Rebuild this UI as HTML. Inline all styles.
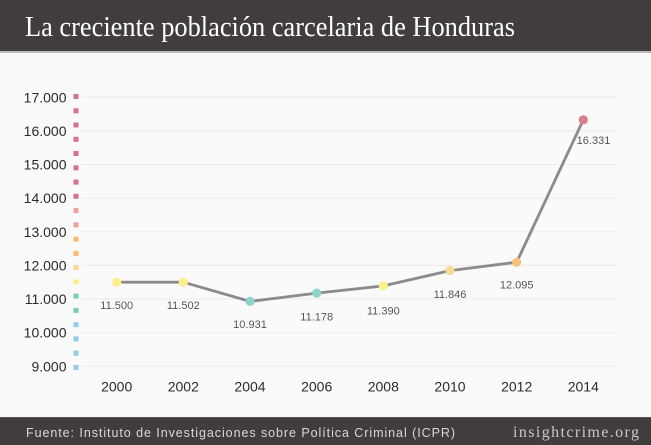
<!DOCTYPE html>
<html><head><meta charset="utf-8"><style>
html,body{margin:0;padding:0;background:#fafafa;}
svg{display:block;}
</style></head><body>
<svg width="651" height="445" viewBox="0 0 651 445" xmlns="http://www.w3.org/2000/svg">
<rect x="0" y="0" width="651" height="445" fill="#fafafa"/>
<rect x="0" y="0" width="651" height="51" fill="#423d3d"/>
<rect x="0" y="51" width="651" height="2" fill="#bdbdbd"/>
<text x="25" y="36" font-family="Liberation Serif, serif" font-size="28" fill="#ffffff" textLength="490" lengthAdjust="spacingAndGlyphs">La creciente población carcelaria de Honduras</text>

<g stroke="#ebebeb" stroke-width="1">
<line x1="81" x2="617" y1="97.3" y2="97.3"/>
<line x1="81" x2="617" y1="130.9" y2="130.9"/>
<line x1="81" x2="617" y1="164.5" y2="164.5"/>
<line x1="81" x2="617" y1="198.2" y2="198.2"/>
<line x1="81" x2="617" y1="231.8" y2="231.8"/>
<line x1="81" x2="617" y1="265.4" y2="265.4"/>
<line x1="81" x2="617" y1="299.0" y2="299.0"/>
<line x1="81" x2="617" y1="332.7" y2="332.7"/>
<line x1="81" x2="617" y1="366.3" y2="366.3"/>
</g>

<g font-family="Liberation Sans, sans-serif" font-size="14" fill="#2a2a2a" text-anchor="end">
<text x="66.5" y="102.3">17.000</text>
<text x="66.5" y="135.9">16.000</text>
<text x="66.5" y="169.5">15.000</text>
<text x="66.5" y="203.2">14.000</text>
<text x="66.5" y="236.8">13.000</text>
<text x="66.5" y="270.4">12.000</text>
<text x="66.5" y="304.0">11.000</text>
<text x="66.5" y="337.7">10.000</text>
<text x="66.5" y="371.3">9.000</text>
</g>

<g>
<rect x="73.5" y="94" width="5" height="5" fill="#d4728a"/>
<rect x="73.5" y="108.3" width="5" height="5" fill="#d4728a"/>
<rect x="73.5" y="122.5" width="5" height="5" fill="#d4728a"/>
<rect x="73.5" y="136.8" width="5" height="5" fill="#d4728a"/>
<rect x="73.5" y="151" width="5" height="5" fill="#d9708a"/>
<rect x="73.5" y="165.3" width="5" height="5" fill="#d9708a"/>
<rect x="73.5" y="179.6" width="5" height="5" fill="#d9708a"/>
<rect x="73.5" y="193.8" width="5" height="5" fill="#d9708a"/>
<rect x="73.5" y="208.1" width="5" height="5" fill="#f2a09c"/>
<rect x="73.5" y="222.3" width="5" height="5" fill="#f2a09c"/>
<rect x="73.5" y="236.6" width="5" height="5" fill="#f7bd6c"/>
<rect x="73.5" y="250.9" width="5" height="5" fill="#f7bd6c"/>
<rect x="73.5" y="265.1" width="5" height="5" fill="#f9d890"/>
<rect x="73.5" y="279.4" width="5" height="5" fill="#fbef80"/>
<rect x="73.5" y="293.6" width="5" height="5" fill="#7ecbc0"/>
<rect x="73.5" y="307.9" width="5" height="5" fill="#7ecbc0"/>
<rect x="73.5" y="322.2" width="5" height="5" fill="#93cbe8"/>
<rect x="73.5" y="336.4" width="5" height="5" fill="#93cbe8"/>
<rect x="73.5" y="350.7" width="5" height="5" fill="#93cbe8"/>
<rect x="73.5" y="364.9" width="5" height="5" fill="#93cbe8"/>
</g>

<polyline fill="none" stroke="#8c8a8c" stroke-width="2.8" stroke-linejoin="round"
 points="116.7,282.2 183.3,282.2 250,301.4 316.7,293.1 383.3,285.9 450,270.6 516.7,262.2 583.3,119.8"/>

<g>
<circle cx="116.7" cy="282.2" r="4.6" fill="#fbf08c"/>
<circle cx="183.3" cy="282.2" r="4.6" fill="#fbf08c"/>
<circle cx="250" cy="301.4" r="4.6" fill="#8fd3ca"/>
<circle cx="316.7" cy="293.1" r="4.6" fill="#8fd3ca"/>
<circle cx="383.3" cy="285.9" r="4.6" fill="#fdf08a"/>
<circle cx="450" cy="270.6" r="4.6" fill="#fad995"/>
<circle cx="516.7" cy="262.2" r="4.6" fill="#f6c37a"/>
<circle cx="583.3" cy="119.8" r="4.6" fill="#d9808f"/>
</g>

<g font-family="Liberation Sans, sans-serif" font-size="11" fill="#555555" text-anchor="middle">
<text x="116.7" y="309">11.500</text>
<text x="183.3" y="309">11.502</text>
<text x="250" y="328">10.931</text>
<text x="316.7" y="320.7">11.178</text>
<text x="383.3" y="314.7">11.390</text>
<text x="450" y="298">11.846</text>
<text x="516.7" y="288.7">12.095</text>
<text x="593.5" y="144">16.331</text>
</g>

<g font-family="Liberation Sans, sans-serif" font-size="14" fill="#2a2a2a" text-anchor="middle">
<text x="116.7" y="391.5">2000</text>
<text x="183.3" y="391.5">2002</text>
<text x="250" y="391.5">2004</text>
<text x="316.7" y="391.5">2006</text>
<text x="383.3" y="391.5">2008</text>
<text x="450" y="391.5">2010</text>
<text x="516.7" y="391.5">2012</text>
<text x="583.3" y="391.5">2014</text>
</g>

<rect x="0" y="417" width="651" height="28" fill="#423d3d"/>
<rect x="0" y="417" width="651" height="1" fill="#5a5555"/>
<text x="26" y="437" font-family="Liberation Sans, sans-serif" font-size="12.5" fill="#d8d8d8" textLength="429" lengthAdjust="spacing">Fuente: Instituto de Investigaciones sobre Política Criminal (ICPR)</text>
<text x="513" y="437" font-family="Liberation Serif, serif" font-size="16" fill="#c8c8c8" textLength="126" lengthAdjust="spacing">insightcrime.org</text>
</svg>
</body></html>
